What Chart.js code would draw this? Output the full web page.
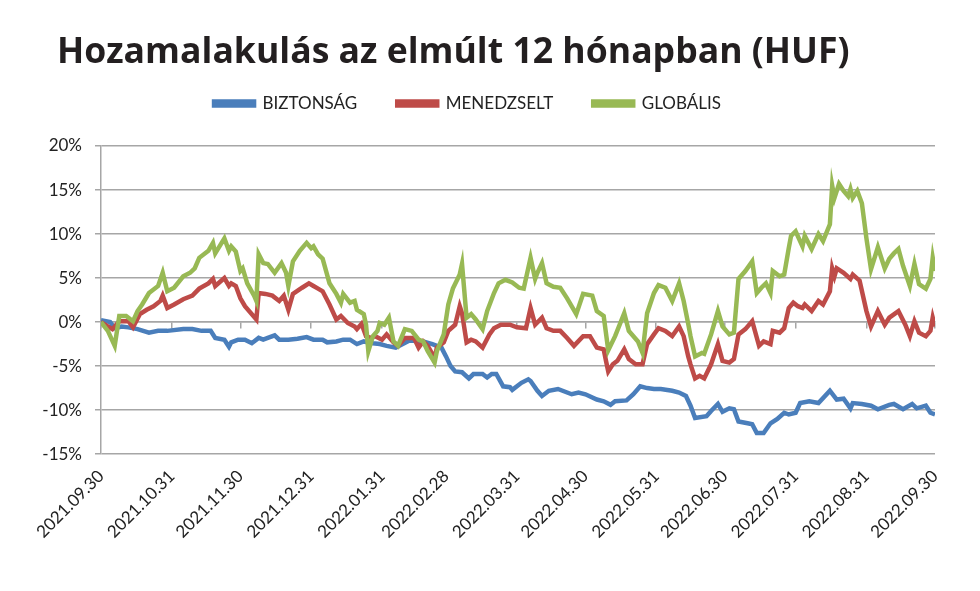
<!DOCTYPE html>
<html>
<head>
<meta charset="utf-8">
<script src="https://cdn.jsdelivr.net/npm/chart.js@4.4.0/dist/chart.umd.min.js"></script>
<style>
    html, body { margin: 0; padding: 0; background: #fff; }
    #wrap { position: relative; width: 980px; height: 591px; }
</style>
</head>
<body>
<div id="wrap"><canvas id="yieldChart" width="980" height="591"></canvas></div>
<script>
// chart title and series names
const titleText = "Hozamalakulás az elmúlt 12 hónapban (HUF)";
const seriesNames = ["BIZTONSÁG", "MENEDZSELT", "GLOBÁLIS"];

// x axis: days since 2021.09.30, month-end labels
const monthDays = [0, 31, 61, 92, 123, 151, 182, 212, 243, 273, 304, 335, 365];
const monthLabels = ["2021.09.30", "2021.10.31", "2021.11.30", "2021.12.31", "2022.01.31", "2022.02.28",
    "2022.03.31", "2022.04.30", "2022.05.31", "2022.06.30", "2022.07.31", "2022.08.31", "2022.09.30"];

// y axis ticks (%)
const yTicks = [-15, -10, -5, 0, 5, 10, 15, 20];

// BIZTONSÁG
const blueDays = [0, 4, 6, 9, 12, 16, 21, 25, 29, 36,
    40, 44, 48, 50, 54, 56, 57, 60, 63, 66,
    69, 71, 73, 76, 78, 82, 86, 90, 93, 97,
    99, 103, 106, 109, 112, 115, 119, 122, 125, 129,
    135, 141, 145, 149, 151, 153, 155, 158, 161, 163,
    167, 169, 171, 173, 176, 179, 180, 184, 187, 188,
    191, 193, 196, 200, 206, 209, 212, 217, 220, 223,
    225, 230, 233, 236, 239, 242, 245, 250, 253, 256,
    258, 260, 265, 267, 270, 272, 275, 277, 279, 283,
    285, 287, 290, 293, 296, 299, 301, 304, 306, 310,
    314, 319, 322, 325, 328, 329, 333, 337, 340, 345,
    347, 351, 355, 357, 361, 363, 365];
const blueValues = [0.2, 0, -0.7, -0.5, -0.6, -0.8, -1.2, -1.0, -1.0, -0.8,
    -0.8, -1.0, -1.0, -1.8, -2.0, -2.8, -2.3, -2.0, -2.0, -2.4,
    -1.8, -2.0, -1.8, -1.5, -2.0, -2.0, -1.9, -1.7, -2.0, -2.0,
    -2.3, -2.2, -2.0, -2.0, -2.5, -2.2, -2.4, -2.5, -2.7, -2.9,
    -2.1, -2.2, -2.5, -2.9, -3.9, -5.0, -5.6, -5.7, -6.4, -5.9,
    -5.9, -6.3, -5.9, -5.9, -7.3, -7.4, -7.7, -6.9, -6.5, -6.7,
    -7.8, -8.4, -7.8, -7.6, -8.2, -8.0, -8.2, -8.8, -9.0, -9.4,
    -9.0, -8.9, -8.2, -7.3, -7.5, -7.6, -7.6, -7.8, -8.0, -8.4,
    -9.5, -10.9, -10.7, -10.1, -9.3, -10.2, -9.8, -9.9, -11.3, -11.5,
    -11.6, -12.6, -12.6, -11.5, -11.0, -10.3, -10.5, -10.3, -9.2, -9.0,
    -9.2, -7.8, -8.8, -8.7, -9.8, -9.2, -9.3, -9.5, -9.9, -9.4,
    -9.3, -9.9, -9.3, -9.8, -9.5, -10.3, -10.5];

// MENEDZSELT
const redDays = [0, 3, 5, 8, 12, 14, 17, 20, 23, 26,
    27, 29, 32, 36, 40, 43, 47, 49, 50, 54,
    56, 57, 59, 61, 63, 68, 69, 72, 75, 78,
    80, 82, 84, 88, 91, 93, 95, 97, 100, 103,
    105, 108, 111, 112, 114, 116, 118, 120, 123, 125,
    128, 130, 133, 137, 139, 141, 143, 146, 147, 150,
    152, 155, 157, 158, 160, 162, 164, 167, 170, 172,
    175, 179, 182, 186, 188, 190, 193, 195, 198, 201,
    204, 207, 211, 214, 217, 220, 221, 222, 224, 226,
    229, 231, 234, 237, 239, 242, 244, 247, 250, 253,
    255, 257, 258, 260, 262, 264, 267, 270, 272, 275,
    277, 279, 282, 285, 288, 290, 293, 294, 297, 299,
    301, 303, 305, 307, 308, 311, 314, 316, 319, 320,
    321, 322, 325, 328, 329, 332, 335, 337, 340, 343,
    345, 349, 352, 354, 356, 358, 361, 363, 364, 365];
const redValues = [0, -0.5, -0.8, 0.1, 0.1, -0.6, 0.9, 1.4, 1.8, 2.4,
    3.0, 1.6, 2.0, 2.6, 3.0, 3.8, 4.4, 4.9, 4.1, 5.0,
    4.1, 4.4, 4.1, 2.7, 1.8, 0.3, 3.3, 3.2, 3.0, 2.4,
    3.0, 1.4, 3.2, 3.9, 4.4, 4.1, 3.8, 3.5, 2.0, 0.3,
    0.7, -0.1, -0.5, -0.8, -0.2, -1.6, -1.8, -1.6, -2.0, -1.4,
    -2.3, -2.7, -1.8, -1.8, -2.9, -2.2, -2.7, -4.1, -2.9, -2.3,
    -1.0, -0.3, 1.8, 1.0, -2.3, -2.0, -2.2, -2.9, -1.4, -0.7,
    -0.3, -0.3, -0.6, -0.7, 1.6, -0.3, 0.5, -0.7, -1.0, -1.0,
    -1.8, -2.7, -1.6, -1.6, -2.9, -3.1, -4.4, -5.6, -4.8, -4.4,
    -3.1, -4.2, -4.8, -4.8, -2.5, -1.4, -0.7, -1.0, -1.6, -0.5,
    -1.6, -3.9, -4.8, -6.4, -6.1, -6.4, -4.8, -2.5, -4.4, -4.6,
    -4.2, -1.4, -0.8, 0.1, -2.7, -2.2, -2.5, -1.0, -1.2, -0.7,
    1.6, 2.2, 1.8, 1.6, 2.0, 1.25, 2.4, 2.0, 3.5, 6.1,
    5.2, 6.1, 5.6, 4.9, 5.4, 4.7, 1.25, -0.5, 1.25, -0.3,
    0.5, 1.25, -0.3, -1.6, 0.1, -1.2, -1.6, -1.0, 0.5, -0.5];

// GLOBÁLIS
const greenDays = [0, 3, 6, 8, 11, 14, 16, 18, 21, 25,
    27, 29, 32, 36, 39, 41, 43, 47, 49, 50,
    54, 56, 57, 59, 61, 62, 64, 67, 68, 69,
    71, 73, 76, 79, 81, 82, 84, 87, 90, 92,
    93, 95, 97, 100, 103, 105, 106, 109, 111, 112,
    115, 116, 117, 119, 121, 122, 124, 126, 128, 130,
    133, 136, 139, 141, 143, 146, 147, 150, 152, 154,
    157, 158, 160, 162, 164, 167, 169, 172, 174, 177,
    180, 183, 185, 188, 190, 191, 193, 195, 198, 201,
    204, 208, 211, 215, 217, 220, 222, 225, 229, 231,
    235, 237, 239, 242, 244, 247, 250, 253, 255, 257,
    258, 260, 263, 264, 267, 270, 272, 275, 277, 279,
    282, 285, 287, 289, 291, 293, 294, 297, 299, 301,
    302, 304, 307, 308, 311, 314, 316, 319, 320, 321,
    323, 325, 327, 328, 329, 331, 333, 335, 337, 340,
    343, 345, 347, 349, 351, 354, 356, 358, 361, 363,
    364, 365];
const greenValues = [0, -1.0, -2.7, 0.7, 0.7, 0.1, 1.25, 2.0, 3.3, 4.1,
    5.6, 3.5, 3.9, 5.2, 5.6, 6.1, 7.3, 8.1, 9.0, 7.8,
    9.5, 8.1, 8.6, 8.0, 5.8, 6.1, 4.4, 3.0, 2.4, 7.7,
    6.7, 6.6, 5.6, 6.7, 5.6, 4.1, 6.9, 8.1, 9.0, 8.4,
    8.6, 7.7, 7.2, 4.4, 3.2, 2.2, 3.2, 2.2, 2.4, 1.4,
    0.9, -0.3, -3.3, -1.6, -1.0, -0.1, -0.3, 0.5, -2.2, -2.7,
    -0.8, -1.0, -2.0, -2.2, -3.3, -4.6, -3.3, -1.4, 2.0, 3.8,
    5.4, 6.6, 0.5, 0.9, 0.3, -0.8, 1.25, 3.3, 4.4, 4.8,
    4.5, 3.9, 3.8, 7.3, 4.9, 5.6, 6.7, 4.4, 4.0, 3.9,
    2.7, 0.9, 3.2, 3.0, 1.25, 0.7, -3.2, -1.6, 1.0, -1.0,
    -2.2, -3.5, 1.0, 3.3, 4.2, 3.9, 2.4, 4.4, 2.4, -0.2,
    -1.6, -3.9, -3.5, -3.6, -1.4, 1.25, -0.5, -1.4, -1.2, 4.9,
    5.8, 6.9, 3.3, 3.9, 4.4, 3.3, 5.8, 5.2, 5.4, 8.4,
    9.8, 10.3, 8.6, 9.8, 8.3, 10.0, 9.2, 11.1, 15.5, 14.1,
    15.7, 14.9, 14.3, 15.1, 14.1, 14.9, 13.5, 9.5, 6.0, 8.5,
    6.1, 7.2, 7.8, 8.3, 6.4, 4.1, 6.6, 4.3, 3.8, 4.9,
    7.3, 5.8];

const seriesColors = ["#4a7ebb", "#be4b48", "#98b954"];
const gridColor = "#a6a6a6";
const textColor = "#222222";
const tickFont = { family: "Lato", size: 17 };

function toPoints(days, values) {
    return days.map((d, i) => ({ x: d, y: values[i] }));
}

function makeDataset(name, days, values, color, order) {
    return {
        label: name,
        data: toPoints(days, values),
        borderColor: color,
        backgroundColor: color,
        borderWidth: 4.5,
        pointRadius: 0,
        tension: 0,
        order: order,
        xAxisID: "x",
        yAxisID: "y"
    };
}

// title drawn at the left like in the original
const leftTitle = {
    id: "leftTitle",
    afterDraw(chart) {
        const ctx = chart.ctx;
        ctx.save();
        ctx.font = "bold 35.6px 'Open Sans'";
        ctx.fillStyle = "#231f20";
        ctx.textBaseline = "alphabetic";
        ctx.fillText(titleText, 57, 63);
        ctx.restore();
    }
};

// extra room under the legend
const legendGap = {
    id: "legendGap",
    beforeInit(chart) {
        const origFit = chart.legend.fit;
        chart.legend.fit = function () {
            origFit.bind(chart.legend)();
            this.height += 24;
        };
    }
};

function setMonthTicks(scale) {
    scale.ticks = monthDays.map(d => ({ value: d }));
}

const ctx = document.getElementById("yieldChart").getContext("2d");
const yieldChart = new Chart(ctx, {
    type: "line",
    data: {
        datasets: [
            makeDataset(seriesNames[0], blueDays, blueValues, seriesColors[0], 3),
            makeDataset(seriesNames[1], redDays, redValues, seriesColors[1], 2),
            makeDataset(seriesNames[2], greenDays, greenValues, seriesColors[2], 1)
        ]
    },
    options: {
        responsive: false,
        animation: false,
        layout: {
            padding: { top: 55, right: 45, bottom: 45, left: 0 }
        },
        plugins: {
            title: { display: false },
            tooltip: { enabled: false },
            legend: {
                display: true,
                position: "top",
                labels: {
                    boxWidth: 40,
                    boxHeight: 4,
                    padding: 40,
                    color: textColor,
                    font: { family: "Lato", size: 17 },
                    sort: (a, b) => a.datasetIndex - b.datasetIndex
                }
            }
        },
        scales: {
            x: {
                type: "linear",
                position: "bottom",
                min: 0,
                max: 365,
                afterBuildTicks: setMonthTicks,
                grid: { display: false },
                border: { display: false },
                ticks: {
                    autoSkip: false,
                    maxRotation: 45,
                    minRotation: 45,
                    padding: 4,
                    color: textColor,
                    font: tickFont,
                    callback: (value, index) => monthLabels[index]
                }
            },
            xZero: {
                type: "linear",
                position: { y: 0 },
                min: 0,
                max: 365,
                afterBuildTicks: setMonthTicks,
                grid: {
                    drawOnChartArea: false,
                    drawTicks: true,
                    tickLength: 6,
                    color: gridColor,
                    lineWidth: 1.5
                },
                border: { display: true, color: gridColor, width: 1.5 },
                ticks: { display: false }
            },
            y: {
                type: "linear",
                min: -15,
                max: 20,
                afterBuildTicks: (scale) => { scale.ticks = yTicks.map(v => ({ value: v })); },
                afterFit: (scale) => { scale.width = 101; },
                grid: {
                    color: gridColor,
                    lineWidth: 1.5,
                    tickLength: 6
                },
                border: { display: true, color: gridColor, width: 1.5 },
                ticks: {
                    padding: 13,
                    color: textColor,
                    font: tickFont,
                    callback: (value) => value + "%"
                }
            }
        }
    },
    plugins: [leftTitle, legendGap]
});
</script>
</body>
</html>
